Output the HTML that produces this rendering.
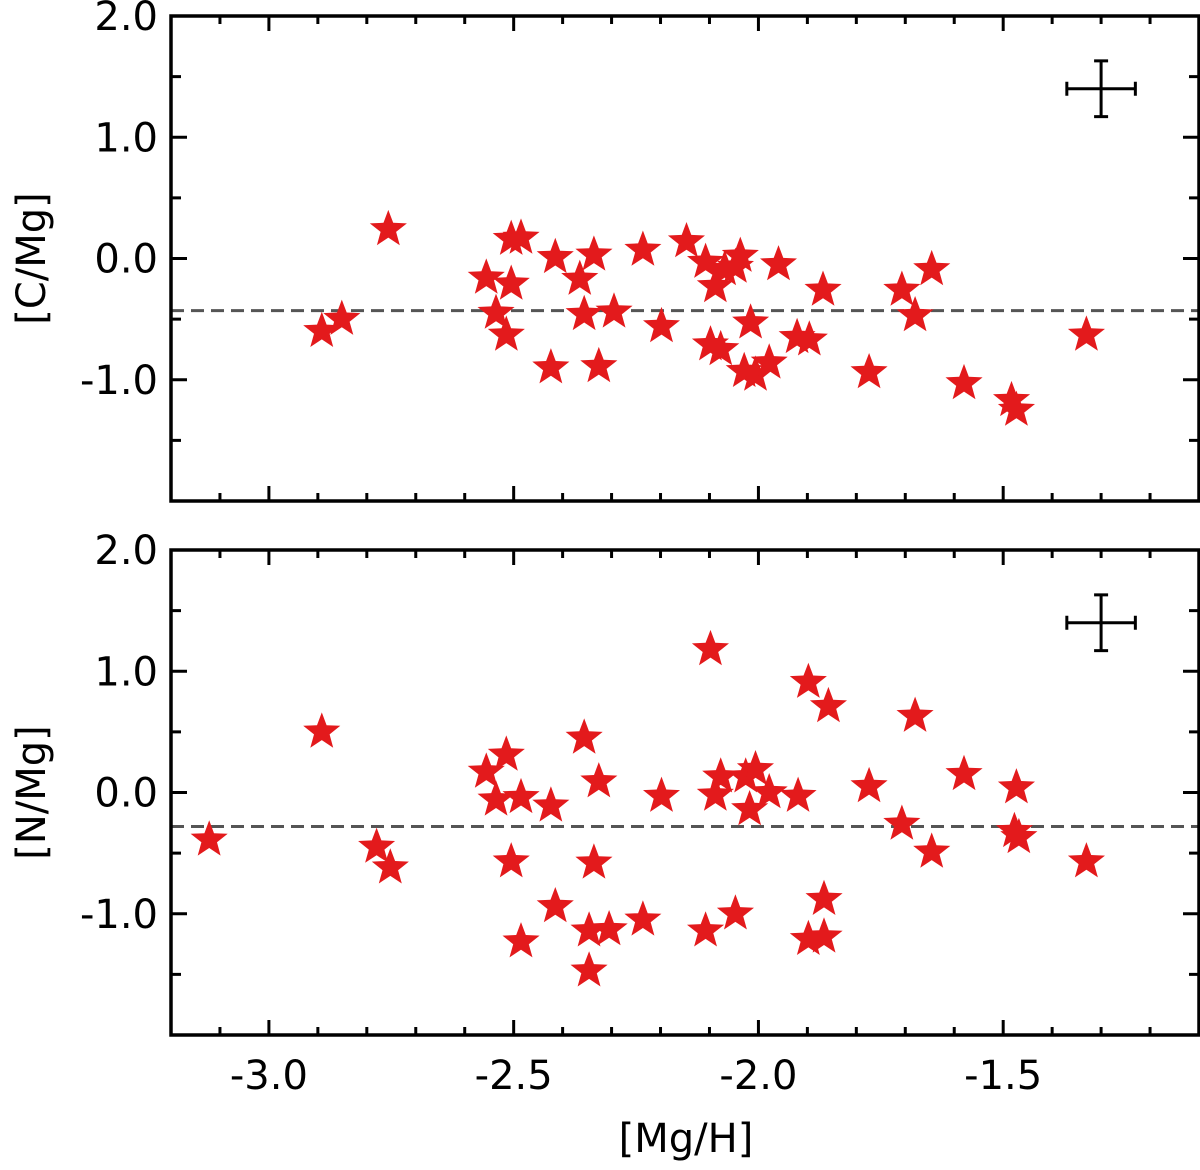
<!DOCTYPE html>
<html><head><meta charset="utf-8"><style>
html,body{margin:0;padding:0;background:#fff;}
svg text{font-family:"DejaVu Sans","Liberation Sans",sans-serif;fill:#000;}
</style></head><body>
<svg id="chart" width="1200" height="1165" xmlns="http://www.w3.org/2000/svg"></svg>
<script>
const xTickLabels = ["-3.0","-2.5","-2.0","-1.5"];
const xTickValues = [-3.0,-2.5,-2.0,-1.5];
const yTickLabels = ["2.0","1.0","0.0","-1.0"];
const yTickValues = [2,1,0,-1];
const topMgH = [-2.756,-2.892,-2.851,-2.556,-2.505,-2.485,-2.505,-2.536,-2.515,-2.415,-2.336,-2.365,-2.356,-2.295,-2.424,-2.326,-2.236,-2.198,-2.147,-2.108,-2.088,-2.069,-2.037,-2.047,-1.959,-1.868,-2.016,-2.098,-2.077,-2.029,-2.006,-1.978,-1.921,-1.896,-1.774,-1.707,-1.680,-1.646,-1.580,-1.483,-1.473,-1.330];
const topCMg = [0.24,-0.60,-0.50,-0.16,0.16,0.17,-0.21,-0.45,-0.63,0.01,0.03,-0.17,-0.46,-0.44,-0.90,-0.89,0.07,-0.56,0.14,-0.03,-0.23,-0.09,0.02,-0.07,-0.05,-0.26,-0.53,-0.71,-0.75,-0.93,-0.96,-0.86,-0.65,-0.67,-0.94,-0.26,-0.47,-0.09,-1.03,-1.17,-1.25,-0.63];
const botMgH = [-3.122,-2.892,-2.780,-2.752,-2.098,-1.898,-1.857,-2.356,-2.515,-2.556,-2.536,-2.485,-2.424,-2.326,-2.198,-2.077,-2.088,-2.026,-2.006,-1.978,-2.018,-1.919,-2.505,-2.336,-2.415,-2.346,-2.305,-2.236,-2.485,-2.346,-2.108,-2.047,-1.866,-1.898,-1.866,-1.774,-1.707,-1.680,-1.646,-1.580,-1.477,-1.468,-1.473,-1.330];
const botNMg = [-0.39,0.50,-0.45,-0.62,1.18,0.91,0.71,0.45,0.31,0.17,-0.06,-0.04,-0.11,0.09,-0.03,0.13,-0.02,0.13,0.19,0.00,-0.14,-0.03,-0.57,-0.58,-0.94,-1.14,-1.13,-1.05,-1.23,-1.47,-1.14,-1.00,-0.88,-1.21,-1.19,0.05,-0.26,0.63,-0.49,0.15,-0.32,-0.37,0.04,-0.57];
const meanTop = -0.43, meanBot = -0.28;
const errX = 0.07, errY = 0.23, errCx = -1.30, errCy = 1.4;

const svg = document.getElementById('chart');
const NS = 'http://www.w3.org/2000/svg';
function mk(tag, attrs, parent){const e=document.createElementNS(NS,tag);for(const k in attrs)e.setAttribute(k,attrs[k]);(parent||svg).appendChild(e);return e;}
const X0=171,X1=1199,XMIN=-3.2,XMAX=-1.1;
function sx(v){return X0+(v-XMIN)/(XMAX-XMIN)*(X1-X0);}
function starPts(cx,cy,R){const r=R*0.42;let p=[];for(let i=0;i<10;i++){const a=-Math.PI/2+i*Math.PI/5;const rr=i%2?r:R;p.push((cx+rr*Math.cos(a)).toFixed(1)+','+(cy+rr*Math.sin(a)).toFixed(1));}return p.join(' ');}

function panel(name, top, bottom, xs, ys, mean, ylabel, showX){
  const g=mk('g',{});
  
  
  const sy=v=>top+(2-v)/4*(bottom-top);
  for(let i=0;i<=21;i++){const v=XMIN+i*0.1;if(v<XMIN-1e-6||v>XMAX+1e-6)continue;const major=Math.abs(v*2-Math.round(v*2))<1e-6;const L=major?15:8;const x=sx(v);
    mk('line',{x1:x,x2:x,y1:bottom,y2:bottom-L,stroke:'#000','stroke-width':3},g);
    mk('line',{x1:x,x2:x,y1:top,y2:top+L,stroke:'#000','stroke-width':3},g);}
  for(let k=0;k<=8;k++){const v=-2+k*0.5;const major=k%2===0;const L=major?16:10;const y=sy(v);
    mk('line',{x1:X0,x2:X0+L,y1:y,y2:y,stroke:'#000','stroke-width':3},g);
    mk('line',{x1:X1,x2:X1-L,y1:y,y2:y,stroke:'#000','stroke-width':3},g);}
  yTickValues.forEach((v,i)=>{const t=mk('text',{x:158,y:sy(v)+14,'text-anchor':'end','font-size':40},g);t.textContent=yTickLabels[i];
    
    });
  const yl=mk('text',{x:0,y:0,'text-anchor':'middle','font-size':40,transform:`translate(45,${sy(0)}) rotate(-90)`},g);yl.textContent=ylabel;
  
  
  const ml=mk('line',{x1:X0,x2:X1,y1:sy(mean),y2:sy(mean),stroke:'#555','stroke-width':3,'stroke-dasharray':'13,7'},g);
  
  
  xs.forEach((xv,i)=>{const s=mk('polygon',{points:starPts(sx(xv),sy(ys[i]),19.5),fill:'#e31a1c'},g);
    
    });
  const eg=mk('g',{stroke:'#000','stroke-width':3},g);
  
  
  const ex=sx(errCx),ey=sy(errCy);
  mk('line',{x1:sx(errCx-errX),x2:sx(errCx+errX),y1:ey,y2:ey},eg);
  mk('line',{x1:ex,x2:ex,y1:sy(errCy+errY),y2:sy(errCy-errY)},eg);
  mk('line',{x1:sx(errCx-errX),x2:sx(errCx-errX),y1:ey-7,y2:ey+7},eg);
  mk('line',{x1:sx(errCx+errX),x2:sx(errCx+errX),y1:ey-7,y2:ey+7},eg);
  mk('line',{x1:ex-7,x2:ex+7,y1:sy(errCy+errY),y2:sy(errCy+errY)},eg);
  mk('line',{x1:ex-7,x2:ex+7,y1:sy(errCy-errY),y2:sy(errCy-errY)},eg);
  const fr=mk('rect',{x:X0,y:top,width:X1-X0,height:bottom-top,fill:'none',stroke:'#000','stroke-width':3.5},g);
  
  
  if(showX){xTickValues.forEach((v,i)=>{const t=mk('text',{x:sx(v),y:bottom+54,'text-anchor':'middle','font-size':40},g);t.textContent=xTickLabels[i];
    
    });
    const xl=mk('text',{x:686,y:1152,'text-anchor':'middle','font-size':40},g);xl.textContent='[Mg/H]';
    
    }
}
panel('c-mg',16,501,topMgH,topCMg,meanTop,'[C/Mg]',false);
panel('n-mg',550,1035,botMgH,botNMg,meanBot,'[N/Mg]',true);
</script>
</body></html>
